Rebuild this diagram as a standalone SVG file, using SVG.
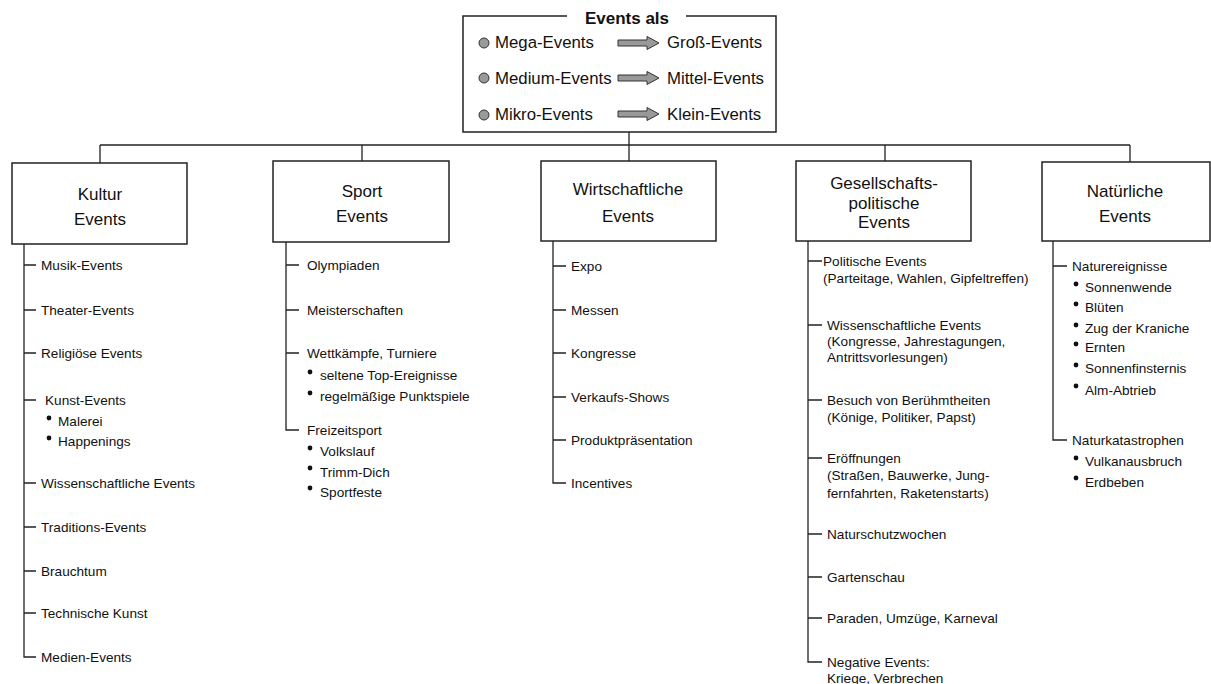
<svg xmlns="http://www.w3.org/2000/svg" width="1211" height="684" viewBox="0 0 1211 684">
<style>
text{font-family:"Liberation Sans",Arial,sans-serif;fill:#111}
.hd{font-size:17px;text-anchor:middle}
.top{font-size:16.8px}
.it{font-size:13.6px}
.box{fill:#fff;stroke:#222;stroke-width:1.5}
.ln{fill:none;stroke:#222;stroke-width:1.3}
.dot{fill:#111}
.circ{fill:#999;stroke:#333;stroke-width:1}
.arr{fill:#999;stroke:#333;stroke-width:1}
</style>
<defs>
<path id="ba" d="M0,-3 H29 V-6.5 L41,0 L29,6.5 V3 H0 Z"/>
</defs>
<g id="connectors" class="ln">
<path d="M629,132 V161"/>
<path d="M100,145 H1130"/>
<path d="M100,145 V163"/>
<path d="M362,145 V161"/>
<path d="M885,145 V161"/>
<path d="M1130,145 V162"/>
<path d="M24,244 V657 H36 M24,265 H36 M24,310 H36 M24,353 H36 M24,400 H36 M24,483 H36 M24,527 H36 M24,571 H36 M24,613 H36"/>
<path d="M286,242 V430 H299 M286,265 H299 M286,310 H299 M286,353 H299"/>
<path d="M553,241 V483 H566 M553,266 H566 M553,310 H566 M553,353 H566 M553,397 H566 M553,440 H566"/>
<path d="M808,241 V662 H822 M808,261 H822 M808,325 H822 M808,400 H822 M808,458 H822 M808,534 H822 M808,577 H822 M808,618 H822"/>
<path d="M1053,241 V440 H1067 M1053,266 H1067"/>
</g>
<g id="top">
<path d="M567,16 H463 V132 H776 V16 H686" class="box"/>
<text x="627" y="24" style="font-size:17px;font-weight:bold;text-anchor:middle">Events als</text>
<circle cx="484" cy="43" r="5" class="circ"/>
<circle cx="484" cy="78" r="5" class="circ"/>
<circle cx="484" cy="115" r="5" class="circ"/>
<text x="495" y="48" class="top">Mega-Events</text>
<text x="495" y="84" class="top">Medium-Events</text>
<text x="495" y="120" class="top">Mikro-Events</text>
<use href="#ba" x="618" y="43" class="arr"/>
<use href="#ba" x="618" y="78" class="arr"/>
<use href="#ba" x="618" y="114" class="arr"/>
<text x="667" y="48" class="top">Groß-Events</text>
<text x="667" y="84" class="top">Mittel-Events</text>
<text x="667" y="120" class="top">Klein-Events</text>
</g>
<g id="kultur">
<rect x="12" y="163" width="175" height="81" class="box"/>
<text x="100" y="200" class="hd">Kultur</text>
<text x="100" y="225" class="hd">Events</text>
<text x="41" y="270" class="it">Musik-Events</text>
<text x="41" y="315" class="it">Theater-Events</text>
<text x="41" y="358" class="it">Religiöse Events</text>
<text x="45" y="405" class="it">Kunst-Events</text>
<circle cx="49" cy="418" r="2.4" class="dot"/>
<text x="58" y="426" class="it">Malerei</text>
<circle cx="49" cy="438" r="2.4" class="dot"/>
<text x="58" y="446" class="it">Happenings</text>
<text x="41" y="488" class="it">Wissenschaftliche Events</text>
<text x="41" y="532" class="it">Traditions-Events</text>
<text x="41" y="576" class="it">Brauchtum</text>
<text x="41" y="618" class="it">Technische Kunst</text>
<text x="41" y="662" class="it">Medien-Events</text>
</g>
<g id="sport">
<rect x="273" y="161" width="176" height="81" class="box"/>
<text x="362" y="197" class="hd">Sport</text>
<text x="362" y="222" class="hd">Events</text>
<text x="307" y="270" class="it">Olympiaden</text>
<text x="307" y="315" class="it">Meisterschaften</text>
<text x="307" y="358" class="it">Wettkämpfe, Turniere</text>
<circle cx="310" cy="372" r="2.4" class="dot"/>
<text x="320" y="380" class="it">seltene Top-Ereignisse</text>
<circle cx="310" cy="393" r="2.4" class="dot"/>
<text x="320" y="401" class="it">regelmäßige Punktspiele</text>
<text x="307" y="435" class="it">Freizeitsport</text>
<circle cx="310" cy="448" r="2.4" class="dot"/>
<text x="320" y="456" class="it">Volkslauf</text>
<circle cx="310" cy="468" r="2.4" class="dot"/>
<text x="320" y="477" class="it">Trimm-Dich</text>
<circle cx="310" cy="488" r="2.4" class="dot"/>
<text x="320" y="497" class="it">Sportfeste</text>
</g>
<g id="wirtschaft">
<rect x="541" y="161" width="175" height="80" class="box"/>
<text x="628" y="195" class="hd">Wirtschaftliche</text>
<text x="628" y="222" class="hd">Events</text>
<text x="571" y="271" class="it">Expo</text>
<text x="571" y="315" class="it">Messen</text>
<text x="571" y="358" class="it">Kongresse</text>
<text x="571" y="402" class="it">Verkaufs-Shows</text>
<text x="571" y="445" class="it">Produktpräsentation</text>
<text x="571" y="488" class="it">Incentives</text>
</g>
<g id="gesellschaft">
<rect x="796" y="161" width="175" height="80" class="box"/>
<text x="884" y="189" class="hd">Gesellschafts-</text>
<text x="884" y="209" class="hd">politische</text>
<text x="884" y="228" class="hd">Events</text>
<text x="823" y="266" class="it">Politische Events</text>
<text x="823" y="283" class="it">(Parteitage, Wahlen, Gipfeltreffen)</text>
<text x="827" y="330" class="it">Wissenschaftliche Events</text>
<text x="827" y="346" class="it">(Kongresse, Jahrestagungen,</text>
<text x="827" y="362" class="it">Antrittsvorlesungen)</text>
<text x="827" y="405" class="it">Besuch von Berühmtheiten</text>
<text x="827" y="422" class="it">(Könige, Politiker, Papst)</text>
<text x="827" y="463" class="it">Eröffnungen</text>
<text x="827" y="480" class="it">(Straßen, Bauwerke, Jung-</text>
<text x="827" y="498" class="it">fernfahrten, Raketenstarts)</text>
<text x="827" y="539" class="it">Naturschutzwochen</text>
<text x="827" y="582" class="it">Gartenschau</text>
<text x="827" y="623" class="it">Paraden, Umzüge, Karneval</text>
<text x="827" y="667" class="it">Negative Events:</text>
<text x="827" y="683" class="it">Kriege, Verbrechen</text>
</g>
<g id="natur">
<rect x="1042" y="162" width="168" height="79" class="box"/>
<text x="1125" y="197" class="hd">Natürliche</text>
<text x="1125" y="222" class="hd">Events</text>
<text x="1072" y="271" class="it">Naturereignisse</text>
<circle cx="1076" cy="284" r="2.4" class="dot"/>
<text x="1085" y="292" class="it">Sonnenwende</text>
<circle cx="1076" cy="304" r="2.4" class="dot"/>
<text x="1085" y="312" class="it">Blüten</text>
<circle cx="1076" cy="325" r="2.4" class="dot"/>
<text x="1085" y="333" class="it">Zug der Kraniche</text>
<circle cx="1076" cy="344" r="2.4" class="dot"/>
<text x="1085" y="352" class="it">Ernten</text>
<circle cx="1076" cy="365" r="2.4" class="dot"/>
<text x="1085" y="373" class="it">Sonnenfinsternis</text>
<circle cx="1076" cy="386" r="2.4" class="dot"/>
<text x="1085" y="395" class="it">Alm-Abtrieb</text>
<text x="1072" y="445" class="it">Naturkatastrophen</text>
<circle cx="1076" cy="458" r="2.4" class="dot"/>
<text x="1085" y="466" class="it">Vulkanausbruch</text>
<circle cx="1076" cy="478" r="2.4" class="dot"/>
<text x="1085" y="487" class="it">Erdbeben</text>
</g>
</svg>
